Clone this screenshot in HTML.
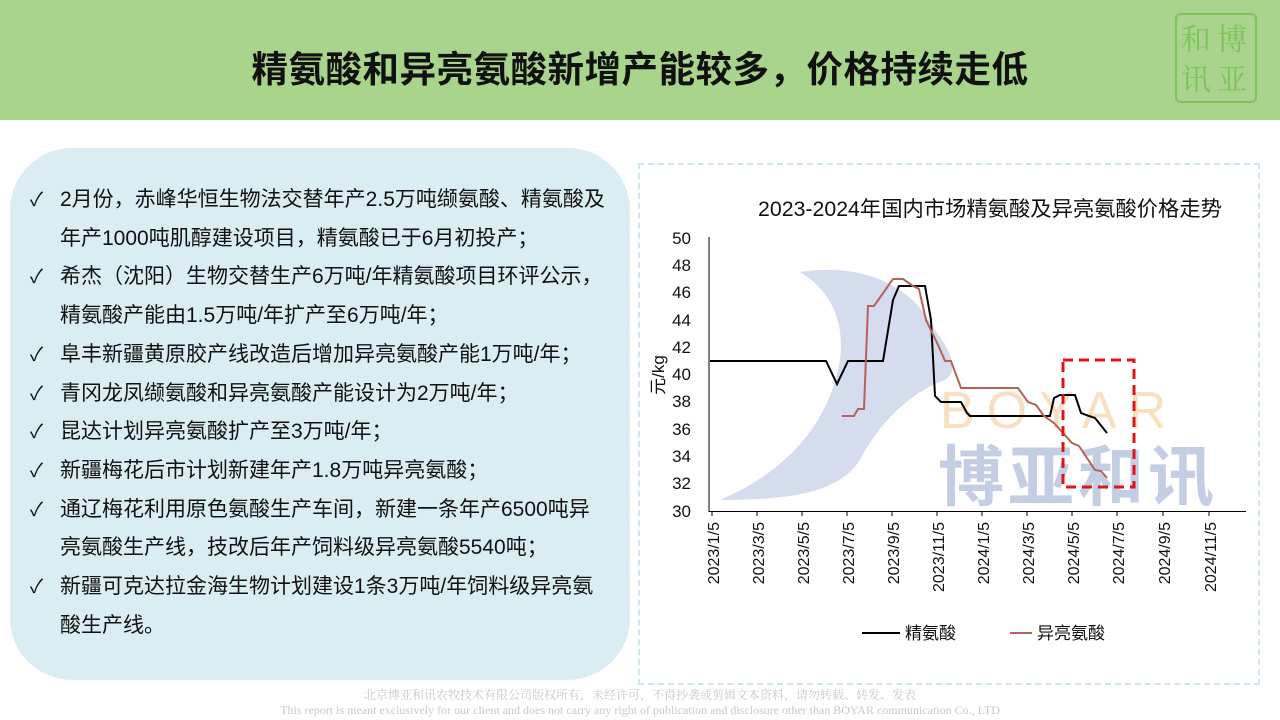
<!DOCTYPE html>
<html><head><meta charset="utf-8"><style>
body{margin:0;width:1280px;height:720px;position:relative;background:#fff;overflow:hidden;font-family:"Liberation Sans","Noto Sans CJK SC",sans-serif;}
.hdr{position:absolute;left:0;top:0;width:1280px;height:120px;background:#a9d48c;}
.title{position:absolute;left:0;top:40px;width:1280px;text-align:center;font-size:36.5px;font-weight:bold;color:#111;letter-spacing:0.5px;}
.seal{position:absolute;left:1175px;top:13px;width:78px;height:86px;border:2px solid #7cc45a;border-radius:6px;color:#7cc45a;font-family:"Noto Serif CJK SC",serif;font-size:30px;line-height:40px;text-align:center;}
.panel{position:absolute;left:10px;top:148px;width:620px;height:532px;background:#daedf3;border-radius:62px;}
.items{position:absolute;left:30px;top:181px;font-size:21px;line-height:38.7px;color:#111;}
.items div{padding-left:30px;text-indent:-30px;width:548px;}
.items span{display:inline-block;width:30px;text-indent:0;font-size:19px;line-height:20px;}
.box{position:absolute;left:638px;top:163px;width:618px;height:518px;border:2px dashed #cfe6ee;}
.foot{position:absolute;left:0;width:1280px;text-align:center;color:#c8c8c8;font-family:"Liberation Serif","Noto Serif CJK SC",serif;font-size:12px;}
</style></head><body>
<div class="hdr"></div>
<div class="title">精氨酸和异亮氨酸新增产能较多，价格持续走低</div>
<div class="seal"><div style="position:absolute;left:4px;top:2px">和</div><div style="position:absolute;left:40px;top:2px">博</div><div style="position:absolute;left:4px;top:42px">讯</div><div style="position:absolute;left:40px;top:42px">亚</div></div>
<div class="panel"></div>
<div class="items">
<div><span>✓</span>2月份，赤峰华恒生物法交替年产2.5万吨缬氨酸、精氨酸及年产1000吨肌醇建设项目，精氨酸已于6月初投产；</div>
<div><span>✓</span>希杰（沈阳）生物交替生产6万吨/年精氨酸项目环评公示，精氨酸产能由1.5万吨/年扩产至6万吨/年；</div>
<div><span>✓</span>阜丰新疆黄原胶产线改造后增加异亮氨酸产能1万吨/年；</div>
<div><span>✓</span>青冈龙凤缬氨酸和异亮氨酸产能设计为2万吨/年；</div>
<div><span>✓</span>昆达计划异亮氨酸扩产至3万吨/年；</div>
<div><span>✓</span>新疆梅花后市计划新建年产1.8万吨异亮氨酸；</div>
<div><span>✓</span>通辽梅花利用原色氨酸生产车间，新建一条年产6500吨异亮氨酸生产线，技改后年产饲料级异亮氨酸5540吨；</div>
<div><span>✓</span>新疆可克达拉金海生物计划建设1条3万吨/年饲料级异亮氨酸生产线。</div>
</div>
<div class="box"></div>
<svg style="position:absolute;left:0;top:0" width="1280" height="720" font-family="Liberation Sans, Noto Sans CJK SC, sans-serif">
<path d="M800 272 C880 260 920 300 935 330 C950 350 960 370 945 380 C915 390 880 420 860 460 C840 490 800 500 720 500 C790 470 830 420 840 360 C845 320 830 290 800 272Z" fill="#c9d3e8" opacity="0.8"/>
<text x="940" y="428" font-size="52" fill="#f8dfbf" letter-spacing="12">BOYAR</text>
<text x="938" y="500" font-size="66" font-weight="bold" fill="#c3cde3" letter-spacing="4">博亚和讯</text>
<text x="990" y="216" font-size="21.3" text-anchor="middle" fill="#111">2023-2024年国内市场精氨酸及异亮氨酸价格走势</text>
<g font-size="17" fill="#111" text-anchor="end">
<text x="691" y="244">50</text><text x="691" y="271">48</text><text x="691" y="298">46</text><text x="691" y="326">44</text><text x="691" y="353">42</text><text x="691" y="380">40</text><text x="691" y="407">38</text><text x="691" y="435">36</text><text x="691" y="462">34</text><text x="691" y="489">32</text><text x="691" y="517">30</text>
</g>
<text transform="translate(664,375) rotate(-90)" font-size="17" text-anchor="middle" fill="#111">元/kg</text>
<line x1="709" y1="237" x2="709" y2="512" stroke="#000"/>
<line x1="709" y1="511.5" x2="1246" y2="511.5" stroke="#000"/>
<g stroke="#000">
<line x1="712" y1="511" x2="712" y2="516"/><line x1="757" y1="511" x2="757" y2="516"/><line x1="802" y1="511" x2="802" y2="516"/><line x1="847" y1="511" x2="847" y2="516"/><line x1="892" y1="511" x2="892" y2="516"/><line x1="937" y1="511" x2="937" y2="516"/><line x1="982" y1="511" x2="982" y2="516"/><line x1="1027" y1="511" x2="1027" y2="516"/><line x1="1072" y1="511" x2="1072" y2="516"/><line x1="1117" y1="511" x2="1117" y2="516"/><line x1="1163" y1="511" x2="1163" y2="516"/><line x1="1209" y1="511" x2="1209" y2="516"/>
</g>
<g font-size="16" fill="#111" text-anchor="end">
<text transform="translate(719,522) rotate(-90)">2023/1/5</text>
<text transform="translate(764,522) rotate(-90)">2023/3/5</text>
<text transform="translate(809,522) rotate(-90)">2023/5/5</text>
<text transform="translate(854,522) rotate(-90)">2023/7/5</text>
<text transform="translate(899,522) rotate(-90)">2023/9/5</text>
<text transform="translate(944,522) rotate(-90)">2023/11/5</text>
<text transform="translate(989,522) rotate(-90)">2024/1/5</text>
<text transform="translate(1034,522) rotate(-90)">2024/3/5</text>
<text transform="translate(1079,522) rotate(-90)">2024/5/5</text>
<text transform="translate(1124,522) rotate(-90)">2024/7/5</text>
<text transform="translate(1170,522) rotate(-90)">2024/9/5</text>
<text transform="translate(1216,522) rotate(-90)">2024/11/5</text>
</g>
<polyline fill="none" stroke="#000" stroke-width="2" points="710,361 826,361 837,384 848,361 883,361 893,300 899,286 925,286 931,320 935,396 941,402 961,402 967,413 970,416 1050,416 1054,398 1060,395 1075,395 1081,413 1089,416 1095,418 1107,433"/>
<polyline fill="none" stroke="#b8605a" stroke-width="2" points="842,416 854,416 858,409 864,409 868,306 874,306 893,279 903,279 913,286 919,289 926,320 939,347 945,361 951,361 961,388 1018,388 1028,402 1036,405 1044,416 1054,423 1072,443 1079,446 1095,470 1101,471 1107,478"/>
<rect x="1063" y="360" width="71" height="127" fill="none" stroke="#e0121a" stroke-width="3" stroke-dasharray="10,6"/>
<line x1="862" y1="633" x2="900" y2="633" stroke="#000" stroke-width="2"/>
<text x="905" y="639" font-size="17" fill="#111">精氨酸</text>
<line x1="1010" y1="633" x2="1032" y2="633" stroke="#b8605a" stroke-width="2"/>
<text x="1037" y="639" font-size="17" fill="#111">异亮氨酸</text>
</svg>
<div class="foot" style="top:686px">北京博亚和讯农牧技术有限公司版权所有，未经许可，不得抄袭或剪辑文本资料，请勿转载、转发、发表</div>
<div class="foot" style="top:703px">This report is meant exclusively for our client and does not carry any right of publication and disclosure other than BOYAR communication Co., LTD</div>
</body></html>
